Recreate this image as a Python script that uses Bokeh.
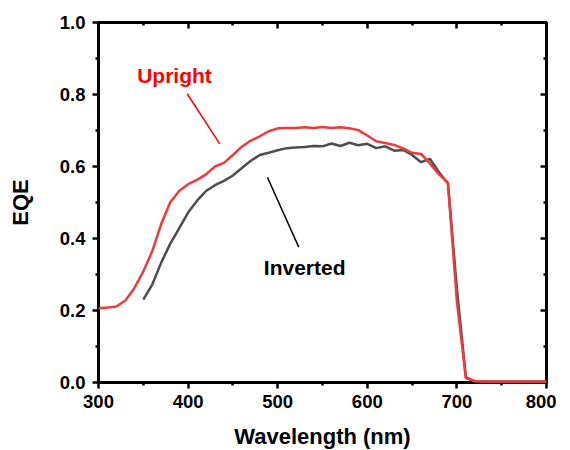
from bokeh.plotting import figure
from bokeh.models import Range1d, LinearAxis, FixedTicker, ColumnDataSource
from bokeh.embed import file_html
from bokeh.resources import INLINE
from bokeh.core.properties import value

# ---- data ----
wl_upright = [300, 310, 320, 330, 340, 350, 360, 370, 380, 390,
              400, 410, 420, 430, 440, 450, 460, 470, 480, 490,
              500, 510, 520, 530, 540, 550, 560, 570, 580, 590,
              600, 610, 620, 630, 640, 650, 660, 670, 680, 690,
              700, 710, 720, 730, 740, 750, 760, 770, 780, 790, 800]
eqe_upright = [0.206, 0.208, 0.211, 0.228, 0.262, 0.308, 0.365, 0.440, 0.500, 0.532,
               0.551, 0.563, 0.578, 0.600, 0.610, 0.632, 0.655, 0.672, 0.684, 0.698,
               0.706, 0.707, 0.707, 0.709, 0.707, 0.710, 0.707, 0.709, 0.706, 0.701,
               0.686, 0.670, 0.665, 0.660, 0.650, 0.638, 0.635, 0.608, 0.578, 0.555,
               0.225, 0.012, 0.004, 0.003, 0.003, 0.003, 0.003, 0.003, 0.003, 0.003, 0.003]

wl_inverted = [350, 360, 370, 380, 390,
               400, 410, 420, 430, 440, 450, 460, 470, 480, 490,
               500, 510, 520, 530, 540, 550, 560, 570, 580, 590,
               600, 610, 620, 630, 640, 650, 660, 670, 680, 690,
               700, 710, 720, 730, 740, 750, 760, 770, 780, 790, 800]
eqe_inverted = [0.230, 0.272, 0.333, 0.385, 0.428,
                0.472, 0.505, 0.532, 0.548, 0.560, 0.575, 0.596, 0.616, 0.632, 0.638,
                0.645, 0.651, 0.653, 0.654, 0.657, 0.656, 0.664, 0.657, 0.666, 0.659,
                0.663, 0.651, 0.656, 0.644, 0.646, 0.632, 0.612, 0.621, 0.584, 0.553,
                0.260, 0.015, 0.003, 0.003, 0.003, 0.003, 0.003, 0.003, 0.003, 0.003, 0.003]

x_major = [300, 400, 500, 600, 700, 800]
x_minor = [350, 450, 550, 650, 750]
y_major = [0.0, 0.2, 0.4, 0.6, 0.8, 1.0]
y_minor = [0.1, 0.3, 0.5, 0.7, 0.9]
y_tick_labels = {0.0: "0.0", 0.2: "0.2", 0.4: "0.4", 0.6: "0.6", 0.8: "0.8", 1.0: "1.0"}

# annotations (data coordinates)
label_names = ["Upright", "Inverted"]
label_x = [343.2, 484.5]
label_y = [0.852, 0.319]
label_colors = ["#ff0000", "#000000"]
leader_x0 = [399.0, 488.5]
leader_y0 = [0.802, 0.570]
leader_x1 = [435.3, 523.5]
leader_y1 = [0.663, 0.376]

FONT = "Liberation Sans"

p = figure(frame_width=448, frame_height=360,
           min_border_left=98, min_border_right=10, min_border_top=22, min_border_bottom=40,
           x_range=Range1d(300, 800), y_range=Range1d(0, 1.0),
           x_axis_location=None, y_axis_location=None,
           output_backend="svg", toolbar_location=None)
p.grid.visible = False
p.outline_line_color = "#000000"
p.outline_line_width = 3

p.line(wl_inverted, eqe_inverted, line_color="#4d4d4d", line_width=2.5, level="overlay")
p.line(wl_upright, eqe_upright, line_color="#f03a3a", line_width=2.5, level="overlay")

src = ColumnDataSource(dict(x0=leader_x0, y0=leader_y0, x1=leader_x1, y1=leader_y1,
                            c=["#ff0000", "#000000"]))
p.segment(x0="x0", y0="y0", x1="x1", y1="y1", line_color="c", line_width=1.5, source=src)

tsrc = ColumnDataSource(dict(x=label_x, y=label_y, t=label_names, c=label_colors))
p.text(x="x", y="y", text="t", text_color="c", source=tsrc,
       text_font=value(FONT), text_font_style="bold", text_font_size="21px",
       text_align="left", text_baseline="alphabetic")

def style_axis(ax, ticks, minor, show_labels, inward):
    ax.ticker = FixedTicker(ticks=ticks, minor_ticks=minor)
    ax.axis_line_width = 3
    ax.axis_line_color = "#000000"
    ax.major_tick_line_width = 2.5
    ax.minor_tick_line_width = 2.5
    ax.major_tick_line_color = "#000000"
    ax.minor_tick_line_color = "#000000"
    if inward:
        ax.major_tick_in = 6
        ax.major_tick_out = 0
        ax.minor_tick_in = 3
        ax.minor_tick_out = 0
    else:
        ax.major_tick_in = 0
        ax.major_tick_out = 6
        ax.minor_tick_in = 0
        ax.minor_tick_out = 3
    if show_labels:
        ax.major_label_text_font = FONT
        ax.major_label_text_font_style = "bold"
        ax.major_label_text_font_size = "18.5px"
        ax.major_label_text_color = "black"
        ax.axis_label_text_font = FONT
        ax.axis_label_text_font_style = "bold"
        ax.axis_label_text_font_size = "22px"
        ax.axis_label_text_color = "black"
    else:
        ax.major_label_text_font_size = "1px"
        ax.major_label_text_alpha = 0
        ax.major_label_standoff = 0

xa = LinearAxis(axis_label="Wavelength (nm)")
style_axis(xa, x_major, x_minor, True, False)
xa.major_label_standoff = 6
xa.axis_label_standoff = 13
p.add_layout(xa, "below")

ya = LinearAxis(axis_label="EQE")
style_axis(ya, y_major, y_minor, True, False)
ya.major_label_standoff = 7
ya.axis_label_standoff = 24
ya.major_label_overrides = y_tick_labels
p.add_layout(ya, "left")

top = LinearAxis()
style_axis(top, x_major, x_minor, False, True)
p.add_layout(top, "above")
right = LinearAxis()
style_axis(right, y_major, y_minor, False, True)
p.add_layout(right, "right")

open("out.html", "w").write(file_html(p, INLINE))
